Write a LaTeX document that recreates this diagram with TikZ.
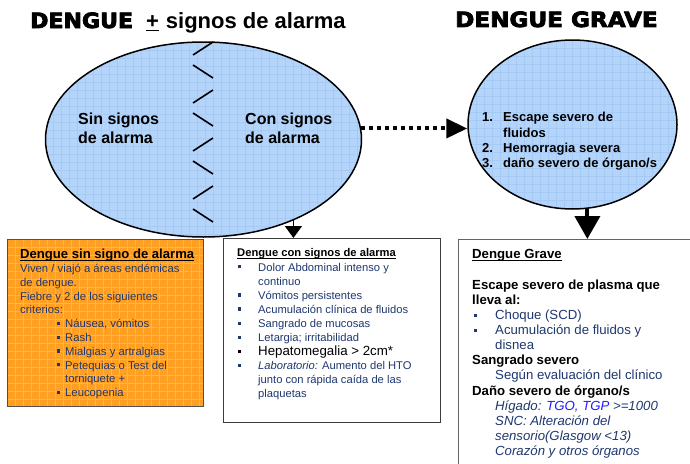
\documentclass[tikz,border=0pt]{standalone}
\usepackage{fontspec}
\setmainfont{Liberation Sans}
\newfontfamily\heavy{DejaVu Sans}[BoldFeatures={FakeBold=3.5}]
\usepackage{graphicx}
\usetikzlibrary{shapes.geometric,arrows.meta,calc}
\definecolor{ellblue}{RGB}{180,212,250}
\definecolor{gridblue}{RGB}{166,202,246}
\definecolor{boxorange}{RGB}{255,160,34}
\definecolor{gridorange}{RGB}{255,182,74}
\definecolor{navy}{RGB}{31,56,112}
\definecolor{linkblue}{RGB}{30,30,255}
\definecolor{frameA}{RGB}{80,80,80}
\definecolor{frameB}{RGB}{60,60,60}
\definecolor{frameC}{RGB}{100,100,100}
\newcommand\ulx[1]{\setbox0\hbox{#1}\rlap{\rule[-2.2pt]{\wd0}{0.9pt}}\box0}
\newcommand\ulbig[1]{\setbox0\hbox{#1}\rlap{\rule[-3.2pt]{\wd0}{1.6pt}}\box0}
\newcommand\bul{\rule[2.6pt]{3.2pt}{3.2pt}}
\tikzset{
  gridpp/.style n args={3}{path picture={
    \foreach \k in {0,...,45}{
      \draw[#1, line width=#3] ($(path picture bounding box.north west)+(\k*#2,0)$) -- ++(0,400);
      \draw[#1, line width=#3] ($(path picture bounding box.north west)+(0,\k*#2)$) -- ++(400,0);
    }}},
  ell/.style={ellipse, draw=black, line width=1.5pt, fill=ellblue, inner sep=0pt, gridpp={gridblue}{8}{0.5pt}},
  boxstyle/.style={rectangle, line width=1.4pt, inner sep=0pt, anchor=north west},
  txt/.style={inner sep=0pt, anchor=north west, align=left},
  zz/.style={line width=1.6pt, black},
  dotarrow/.style={line width=4pt, dash pattern=on 4pt off 4pt, -{Triangle[length=21pt,width=19pt]}},
  thinarrow/.style={line width=1.5pt, -{Triangle[length=12pt,width=17pt]}},
  thickarrow/.style={line width=4pt, -{Triangle[length=23pt,width=25pt]}}
}
\begin{document}
\begin{tikzpicture}[x=1pt,y=-1pt]
\useasboundingbox[fill=white] (0,0) rectangle (690,463);

% boxes
\node[boxstyle, draw=frameA, fill=boxorange, gridpp={gridorange}{8}{1.5pt}, minimum width=196pt, minimum height=167pt] (b1) at (7,239) {};
\node[boxstyle, draw=frameB, fill=white, minimum width=217pt, minimum height=184pt] (b2) at (223,238) {};
\node[boxstyle, draw=frameC, fill=white, minimum width=258pt, minimum height=240pt] (b3) at (458,239) {};

% ellipses
\node[ell, minimum width=316pt, minimum height=195pt] (e1) at (203.5,139.5) {};
\node[ell, minimum width=209pt, minimum height=169pt] (e2) at (572.5,124.5) {};

% zigzag
\foreach \k in {0,...,3}{
  \draw[zz] (213,42+\k*48) -- (193,55+\k*48);
  \draw[zz] (193,65+\k*48) -- (213,78+\k*48);
}

% titles
\node[inner sep=0pt, anchor=base west] (title1) at (30,28)
  {{\heavy\bfseries\fontsize{21}{24}\selectfont\scalebox{1.05}[1]{DENGUE}}\hspace{13pt}{\fontsize{22}{24}\selectfont\bfseries\ulbig{+}\hspace{7pt}signos de alarma}};
\node[inner sep=0pt, anchor=base west] (title2) at (455,27)
  {\heavy\bfseries\fontsize{21}{24}\selectfont\scalebox{1.1}[1]{DENGUE GRAVE}};

% ellipse texts
\node[txt] (t1) at (78,111.4) {\fontsize{16}{19}\selectfont\bfseries\begin{tabular}{@{}l@{}}Sin signos\\de alarma\end{tabular}};
\node[txt] (t2) at (245,111.4) {\fontsize{16}{19}\selectfont\bfseries\begin{tabular}{@{}l@{}}Con signos\\de alarma\end{tabular}};
\node[txt] (t3) at (482,111.1) {\fontsize{13}{15.2}\selectfont\bfseries\begin{tabular}{@{}p{21pt}@{}l@{}}
1. & Escape severo de\\
 & fluidos\\
2. & Hemorragia severa\\
3. & daño severo de órgano/s
\end{tabular}};

% box 1 text
\node[txt] (x1) at (20,248.8) {\fontsize{11.3}{13.8}\selectfont\color{navy}\begin{tabular}{@{}l@{}}
{\color{black}\fontsize{13.1}{13.8}\selectfont\bfseries\ulx{Dengue sin signo de alarma}}\\
Viven / viajó a áreas endémicas\\
de dengue.\\
Fiebre y 2 de los siguientes\\
criterios:\\
\hspace{37pt}\bul\hspace{4.8pt}Náusea, vómitos\\
\hspace{37pt}\bul\hspace{4.8pt}Rash\\
\hspace{37pt}\bul\hspace{4.8pt}Mialgias y artralgias\\
\hspace{37pt}\bul\hspace{4.8pt}Petequias o Test del\\
\hspace{45pt}torniquete +\\
\hspace{37pt}\bul\hspace{4.8pt}Leucopenia
\end{tabular}};

% box 2 text
\node[txt] (x2) at (237,246.9) {\fontsize{11.2}{14.07}\selectfont\color{navy}\begin{tabular}{@{}l@{}}
{\color{black}\bfseries\ulx{Dengue con signos de alarma}}\\
\hspace{1pt}\bul\hspace{16.8pt}Dolor Abdominal intenso y\\
\hspace{21pt}continuo\\
\hspace{1pt}\bul\hspace{16.8pt}Vómitos persistentes\\
\hspace{1pt}\bul\hspace{16.8pt}Acumulación clínica de fluidos\\
\hspace{1pt}\bul\hspace{16.8pt}Sangrado de mucosas\\
\hspace{1pt}\bul\hspace{16.8pt}Letargia; irritabilidad\\
{\color{black}\hspace{1pt}\bul\hspace{16.8pt}\fontsize{13.3}{14.07}\selectfont Hepatomegalia > 2cm*}\\
\hspace{1pt}\bul\hspace{16.8pt}\textit{Laboratorio:} Aumento del HTO\\
\hspace{21pt}junto con rápida caída de las\\
\hspace{21pt}plaquetas
\end{tabular}};

% box 3 text
\node[txt] (x3) at (472,247.9) {\fontsize{13.2}{15.15}\selectfont\color{navy}\begin{tabular}{@{}l@{}}
{\color{black}\bfseries\ulx{Dengue Grave}}\\
\mbox{}\\
{\color{black}\bfseries Escape severo de plasma que}\\
{\color{black}\bfseries lleva al:}\\
\hspace{2pt}\bul\hspace{17.8pt}Choque (SCD)\\
\hspace{2pt}\bul\hspace{17.8pt}Acumulación de fluidos y\\
\hspace{23pt}disnea\\
{\color{black}\bfseries Sangrado severo}\\
\hspace{23pt}Según evaluación del clínico\\
{\color{black}\bfseries Daño severo de órgano/s}\\
\hspace{23pt}\textit{Hígado: {\color{linkblue}TGO, TGP} >=1000}\\
\hspace{23pt}\textit{SNC: Alteración del}\\
\hspace{23pt}\textit{sensorio(Glasgow <13)}\\
\hspace{23pt}\textit{Corazón y otros órganos}
\end{tabular}};

% connectors
\draw[dotarrow] (e1.4) -- (e1.4 -| e2.west);
\draw[thinarrow] (e1.-42) -- (e1.-42 |- b2.north);
\draw[thickarrow] (e2.-80) -- (e2.-80 |- b3.north);
\end{tikzpicture}
\end{document}
